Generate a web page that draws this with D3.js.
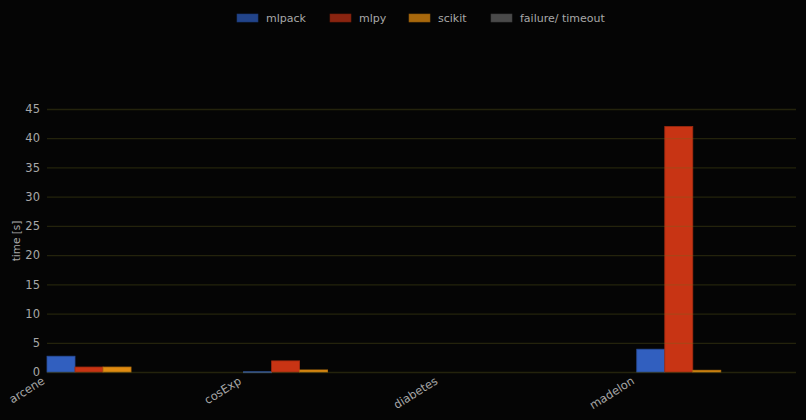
<!DOCTYPE html>
<html><head><meta charset="utf-8">
<script src="https://cdn.jsdelivr.net/npm/d3@7"></script>
<style>body{margin:0;background:#050505}svg{display:block}</style>
</head><body><svg id="c" width="806" height="420"></svg>
<script>
const categories = ["arcene","cosExp","diabetes","madelon"];
const seriesNames = ["mlpack","mlpy","scikit","failure/ timeout"];
const mlpack = [2.7, 0.05, null, 3.9];
const mlpy = [0.85, 1.9, null, 42.0];
const scikit = [0.85, 0.35, null, 0.3];
const failure = [null, null, null, null];
const yTicks = [0,5,10,15,20,25,30,35,40,45];
const barColors = ["#315fbf","#c83414","#e08c12","#606060"];
const legendColors = ["#22448a","#8a2410","#a8680c","#4a4a4a"];

const svg = d3.select("#c");
svg.append("rect").attr("width",806).attr("height",420).attr("fill","#050505");
const x = d3.scaleLinear().domain([0,3.81]).range([47,796]);
const y = d3.scaleLinear().domain([0,45]).range([372,109]);
const step = x(1)-x(0);
const bw = step*0.1425;
const data = [mlpack, mlpy, scikit, failure];

data.forEach((arr,si)=>{
  svg.append("g").selectAll("rect").data(arr.map((v,i)=>({v,i})).filter(d=>d.v!=null))
    .join("rect")
    .attr("x",d=>x(d.i)+si*bw)
    .attr("y",d=>y(d.v))
    .attr("width",bw)
    .attr("height",d=>Math.max(1,y(0)-y(d.v)))
    .attr("fill",barColors[si])
    .attr("stroke",d3.color(barColors[si]).darker(0.6))
    .attr("stroke-width",0.8);
});

const yAxis = d3.axisLeft(y).tickValues(yTicks).tickSize(-(796-47)).tickPadding(7);
const gy = svg.append("g").attr("transform","translate(47,0)").call(yAxis);
gy.select(".domain").remove();
gy.selectAll(".tick line").attr("stroke","rgb(110,105,30)").attr("stroke-opacity",0.3).attr("stroke-width",1.3);
gy.selectAll(".tick text").attr("fill","#a8a8a8").attr("font-family","DejaVu Sans, sans-serif").attr("font-size",11.5);

svg.append("text").attr("transform","translate(20,241) rotate(-90)")
  .attr("text-anchor","middle").attr("fill","#a8a8a8")
  .attr("font-family","DejaVu Sans, sans-serif").attr("font-size",10.5).text("time [s]");

const xAxis = d3.axisBottom(x).tickValues(d3.range(categories.length)).tickFormat(i=>categories[i]).tickSize(0).tickPadding(0);
const gx = svg.append("g").attr("transform","translate(0,372)").call(xAxis);
gx.select(".domain").remove();
gx.selectAll(".tick text")
  .attr("fill","#a8a8a8").attr("font-family","DejaVu Sans, sans-serif").attr("font-size",11.5)
  .attr("text-anchor","end").attr("dy",0).attr("y",0)
  .attr("transform","translate(-2,11) rotate(-32)");

const legX = [237,330,409,491];
const lg = svg.append("g");
seriesNames.forEach((n,i)=>{
  lg.append("rect").attr("x",legX[i]).attr("y",14).attr("width",21).attr("height",8)
    .attr("fill",legendColors[i]).attr("stroke",d3.color(legendColors[i]).darker(0.5)).attr("stroke-width",0.6);
  lg.append("text").attr("x",legX[i]+29).attr("y",22).attr("fill","#a8a8a8")
    .attr("font-family","DejaVu Sans, sans-serif").attr("font-size",11).text(n);
});
</script></body></html>
